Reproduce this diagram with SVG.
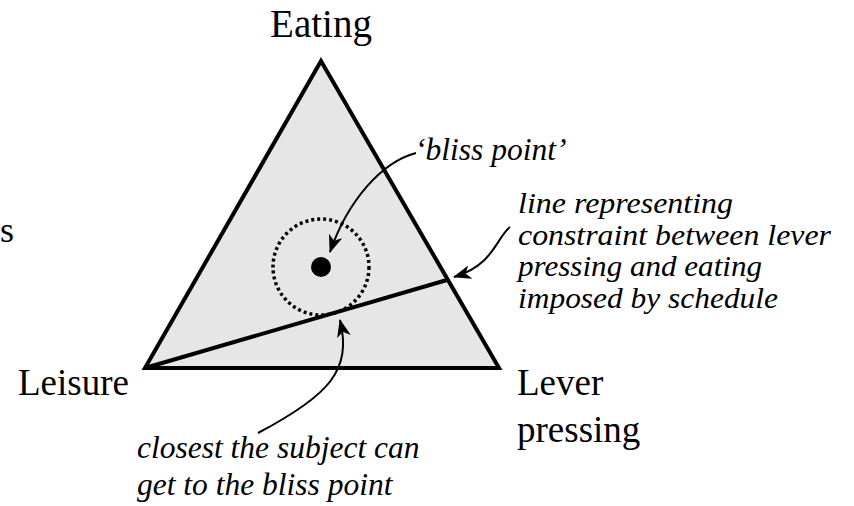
<svg xmlns="http://www.w3.org/2000/svg" width="854" height="506" viewBox="0 0 854 506">
<style>
.lbl{font-family:"Liberation Serif","Times New Roman",serif;font-size:37px;fill:#000}
.it{font-family:"Liberation Serif","Times New Roman",serif;font-style:italic;font-size:31.5px;fill:#000}
.it2{font-size:30px}
.ptr{fill:none;stroke:#000;stroke-width:2}
</style>
<defs>
<marker id="ah" markerUnits="userSpaceOnUse" markerWidth="20" markerHeight="14" refX="17" refY="7" orient="auto">
<path d="M0,0 L18,7 L0,14 L5,7 Z" fill="#000"/>
</marker>
</defs>
<rect width="854" height="506" fill="#fff"/>
<g id="triangle">
<polygon points="321,61 145,368 499,368" fill="#e6e6e6" stroke="#000" stroke-width="4" stroke-linejoin="miter"/>
</g>
<g id="bliss">
<circle cx="321" cy="267" r="48" fill="none" stroke="#000" stroke-width="3.5" stroke-dasharray="3 3"/>
<circle cx="321" cy="267" r="10" fill="#000"/>
</g>
<g id="constraint">
<line x1="145" y1="368" x2="447" y2="280" stroke="#000" stroke-width="4"/>
</g>
<g id="connectors">
<path class="ptr" d="M416,153 C382,162 348,200 330,252" marker-end="url(#ah)"/>
<path class="ptr" d="M510,227 C496,238 494,265 454,277" marker-end="url(#ah)"/>
<path class="ptr" d="M258,433 C330,395 352,370 340,320" marker-end="url(#ah)"/>
</g>
<g id="labels">
<text class="lbl" x="321" y="37" text-anchor="middle" style="font-size:39px">Eating</text>
<text class="lbl" x="18" y="395">Leisure</text>
<text class="lbl" x="517" y="395">Lever</text>
<text class="lbl" x="517" y="442">pressing</text>
<text class="lbl" x="0" y="242" style="font-size:36px">s</text>
<text class="it" x="415" y="160">‘bliss point’</text>
<text class="it it2" x="518" y="213" textLength="215" lengthAdjust="spacingAndGlyphs">line representing</text>
<text class="it it2" x="518" y="245" textLength="313" lengthAdjust="spacingAndGlyphs">constraint between lever</text>
<text class="it it2" x="518" y="276" textLength="244" lengthAdjust="spacingAndGlyphs">pressing and eating</text>
<text class="it it2" x="518" y="308" textLength="260" lengthAdjust="spacingAndGlyphs">imposed by schedule</text>
<text class="it" x="137" y="458">closest the subject can</text>
<text class="it" x="137" y="495">get to the bliss point</text>
</g>
</svg>
